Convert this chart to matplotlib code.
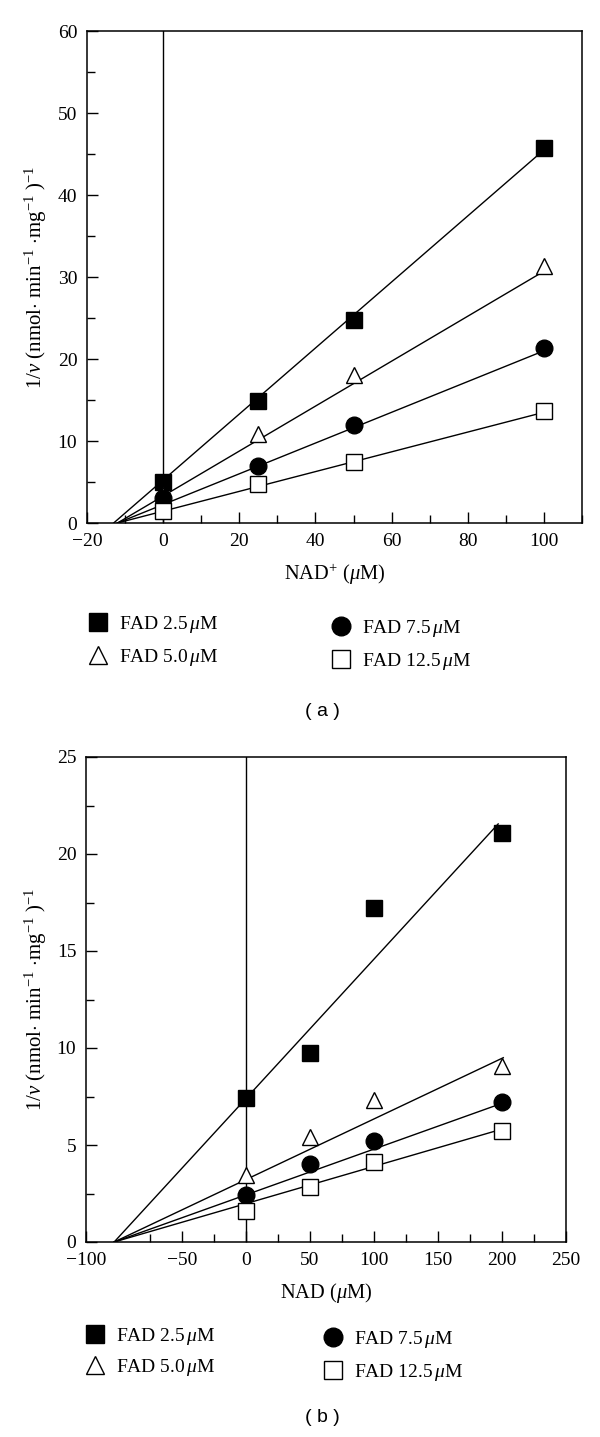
import matplotlib
matplotlib.use("Agg")
import matplotlib.pyplot as plt
from matplotlib.ticker import MultipleLocator, FixedLocator

plt.rcParams['font.family'] = ['Liberation Serif', 'DejaVu Serif']
plt.rcParams['mathtext.fontset'] = 'custom'
plt.rcParams['mathtext.rm'] = 'Liberation Serif'
plt.rcParams['mathtext.it'] = 'Liberation Serif:italic'
plt.rcParams['mathtext.bf'] = 'Liberation Serif:bold'

# legend labels (same for both panels)
fad_labels = ['FAD 2.5$\\,\\mu$M', 'FAD 5.0$\\,\\mu$M', 'FAD 7.5$\\,\\mu$M', 'FAD 12.5$\\,\\mu$M']

# panel (a): NAD+ (uM) vs 1/v
a_x = [0, 25, 50, 100]
a_fad25 = [5.0, 14.9, 24.8, 45.7]
a_fad50 = [3.4, 10.9, 18.0, 31.4]
a_fad75 = [3.1, 6.9, 12.0, 21.3]
a_fad125 = [1.5, 4.7, 7.5, 13.6]
# fitted lines: start on the x axis, end at x = 100
a_fit_x0 = [-13, -12, -12, -12]
a_fit_x1 = [100, 100, 100, 100]
a_fit_y1 = [45.5, 30.7, 21.0, 13.5]

# panel (b): NAD (uM) vs 1/v
b_x = [0, 50, 100, 200]
b_fad25 = [7.4, 9.75, 17.2, 21.1]
b_fad50 = [3.45, 5.4, 7.3, 9.05]
b_fad75 = [2.4, 4.0, 5.2, 7.2]
b_fad125 = [1.6, 2.85, 4.1, 5.7]
b_fit_x0 = [-103, -103, -103, -103]
b_fit_x1 = [197, 201, 200, 199]
b_fit_y1 = [21.55, 9.5, 7.15, 5.8]

# panel (b) x tick labels as printed (left edge is labelled -100)
b_xticks = [-125, -50, 0, 50, 100, 150, 200, 250]
b_xticklabels = ['\u2212100', '\u221250', '0', '50', '100', '150', '200', '250']

markers = [
    dict(marker='s', ms=12, mfc='black', mec='black'),
    dict(marker='^', ms=11.5, mfc='white', mec='black'),
    dict(marker='o', ms=12, mfc='black', mec='black'),
    dict(marker='s', ms=11.5, mfc='white', mec='black'),
]

ylab = '1/$\\nu$ (nmol$\\cdot$ min$^{-1}$ $\\cdot$mg$^{-1}$ )$^{-1}$'

fig = plt.figure(figsize=(6, 14.37), dpi=100)
W, H = 600.0, 1437.0
ax1 = fig.add_axes([87 / W, 1 - 523 / H, (582 - 87) / W, (523 - 31) / H])
ax2 = fig.add_axes([86 / W, 1 - 1242 / H, (566 - 86) / W, (1242 - 757) / H])


def draw_panel(ax, x, ys, fx0, fx1, fy1):
    handles = []
    for k in range(4):
        ax.plot([fx0[k], fx1[k]], [0, fy1[k]], color='black', lw=1.0, zorder=2)
    for k in range(4):
        h, = ax.plot(x, ys[k], linestyle='none', mew=1.0, zorder=3,
                     label=fad_labels[k], **markers[k])
        handles.append(h)
    ax.axvline(0, color='black', lw=1.0, zorder=1)
    for s in ax.spines.values():
        s.set_linewidth(1.1)
    ax.tick_params(which='both', direction='in', top=False, right=False,
                   width=1.0, labelsize=14)
    ax.tick_params(which='major', length=8, pad=7)
    ax.tick_params(which='minor', length=6)
    ax.set_ylabel(ylab, fontsize=15)
    return handles


h1 = draw_panel(ax1, a_x, [a_fad25, a_fad50, a_fad75, a_fad125], a_fit_x0, a_fit_x1, a_fit_y1)
ax1.set_xlim(-20, 110)
ax1.set_ylim(0, 60)
ax1.xaxis.set_minor_locator(MultipleLocator(10))
ax1.yaxis.set_major_locator(MultipleLocator(10))
ax1.yaxis.set_minor_locator(MultipleLocator(5))
ax1.set_xticks([-20, 0, 20, 40, 60, 80, 100], ['\u221220', '0', '20', '40', '60', '80', '100'])
ax1.set_xlabel('NAD$^{+}$ ($\\mu$M)', fontsize=14.8, labelpad=9)
ax1.yaxis.set_label_coords(-0.076, 0.5)

h2 = draw_panel(ax2, b_x, [b_fad25, b_fad50, b_fad75, b_fad125], b_fit_x0, b_fit_x1, b_fit_y1)
ax2.set_xlim(-125, 250)
ax2.set_ylim(0, 25)
ax2.set_xticks(b_xticks, b_xticklabels)
ax2.xaxis.set_minor_locator(FixedLocator([-75, -25, 25, 75, 125, 175, 225]))
ax2.yaxis.set_major_locator(MultipleLocator(5))
ax2.yaxis.set_minor_locator(MultipleLocator(2.5))
ax2.set_xlabel('NAD ($\\mu$M)', fontsize=14.8, labelpad=9)
ax2.yaxis.set_label_coords(-0.078, 0.5)


def add_legend(handles, labels, x_left, y_mid, spacing):
    leg = fig.legend(handles, labels, loc='center left',
                     bbox_to_anchor=(x_left / W, 1 - y_mid / H),
                     bbox_transform=fig.transFigure, frameon=False,
                     fontsize=14, borderpad=0, borderaxespad=0,
                     handlelength=0.95, handletextpad=0.6,
                     labelspacing=spacing, markerscale=1.12)
    return leg


add_legend(h1[:2], fad_labels[:2], 89, 641, 0.62)
add_legend(h1[2:], fad_labels[2:], 332, 645, 0.62)
add_legend(h2[:2], fad_labels[:2], 86, 1352, 0.5)
add_legend(h2[2:], fad_labels[2:], 324, 1356, 0.6)

fig.text(322 / W, 1 - 712 / H, '( a )', family=['Liberation Sans', 'DejaVu Sans'],
         fontsize=14, ha='center', va='center')
fig.text(322 / W, 1 - 1418 / H, '( b )', family=['Liberation Sans', 'DejaVu Sans'],
         fontsize=14, ha='center', va='center')

fig.savefig('out.png', dpi=100)
